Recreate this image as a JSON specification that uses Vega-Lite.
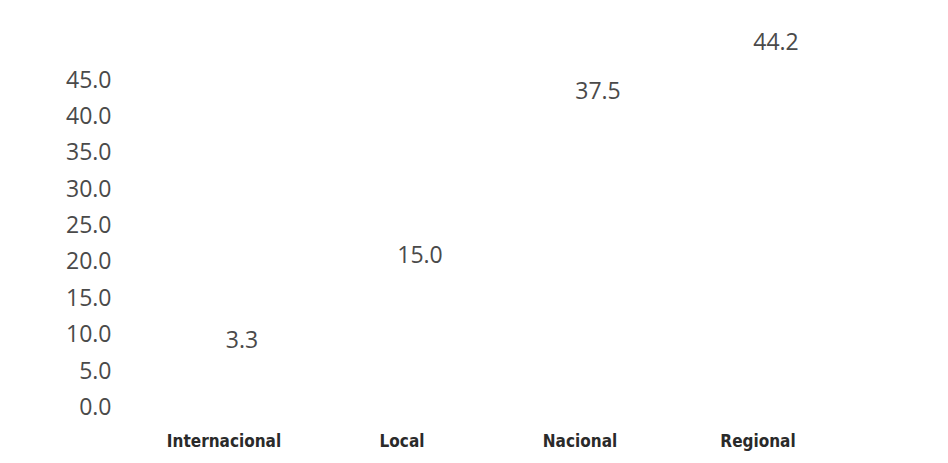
{
  "$schema": "https://vega.github.io/schema/vega-lite/v6.json",
  "width": 712,
  "height": 327.5,
  "autosize": {"type": "none"},
  "padding": {"left": 135, "top": 80, "right": 101, "bottom": 55.5},
  "background": "white",
  "config": {"view": {"stroke": null}},
  "data": {
    "values": [
      {"tipo": "Internacional", "porcentaje": 3.3},
      {"tipo": "Local", "porcentaje": 15.0},
      {"tipo": "Nacional", "porcentaje": 37.5},
      {"tipo": "Regional", "porcentaje": 44.2}
    ]
  },
  "encoding": {
    "x": {
      "field": "tipo",
      "type": "nominal",
      "sort": null,
      "axis": {
        "title": null,
        "labelAngle": 0,
        "ticks": false,
        "domain": false,
        "grid": false,
        "labelPadding": 33.5,
        "labelBaseline": "middle",
        "labelFont": "Liberation Sans Narrow, DejaVu Sans Condensed, DejaVu Sans",
        "labelFontSize": 17,
        "labelFontWeight": "bold",
        "labelColor": "#2a2a2a"
      }
    },
    "y": {
      "field": "porcentaje",
      "type": "quantitative",
      "scale": {"domain": [0, 45], "nice": false},
      "axis": {
        "title": null,
        "values": [0, 5, 10, 15, 20, 25, 30, 35, 40, 45],
        "format": ".1f",
        "ticks": false,
        "domain": false,
        "grid": false,
        "labelPadding": 24,
        "labelFont": "Open Sans",
        "labelFontSize": 23,
        "labelColor": "#4a4a4a"
      }
    }
  },
  "layer": [
    {"mark": {"type": "bar", "fill": "white", "width": {"band": 0.6}}},
    {
      "mark": {
        "type": "text",
        "dx": 18,
        "dy": -42.7,
        "baseline": "middle",
        "align": "center",
        "font": "Open Sans",
        "fontSize": 23,
        "color": "#4a4a4a"
      },
      "encoding": {"text": {"field": "porcentaje", "type": "quantitative", "format": ".1f"}}
    }
  ]
}
